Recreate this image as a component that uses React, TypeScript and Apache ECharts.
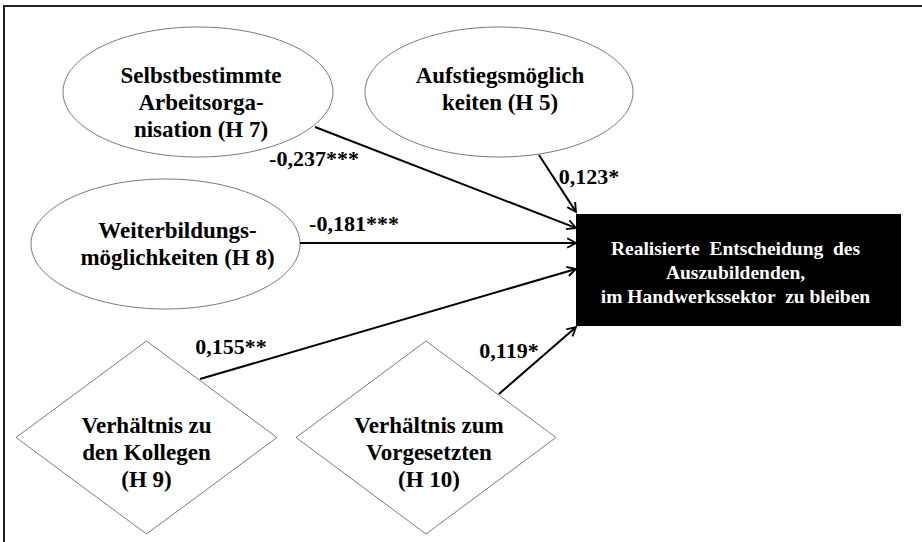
import React, { useEffect, useRef } from "react";
import * as echarts from "echarts";

// ---- content (values) ----
const constructNames = [
  "Selbstbestimmte\nArbeitsorga-\nnisation (H 7)",
  "Aufstiegsmöglich\nkeiten (H 5)",
  "Weiterbildungs-\nmöglichkeiten (H 8)",
  "Verhältnis zu\nden Kollegen\n(H 9)",
  "Verhältnis zum\nVorgesetzten\n(H 10)",
];
const outcomeName = "Realisierte  Entscheidung  des\nAuszubildenden,\nim Handwerkssektor  zu bleiben";
const pathCoefficients = [-0.237, 0.123, -0.181, 0.155, 0.119];
const significance = ["***", "*", "***", "**", "*"];

// ---- layout (positions / sizes) ----
const nodeShapes = ["ellipse", "ellipse", "ellipse", "diamond", "diamond", "box"];
const nodeCenters = [
  [198, 92],
  [499, 92],
  [165.5, 244],
  [146.5, 437.5],
  [426, 437.5],
  [738.5, 270],
];
const nodeSizes = [
  [270, 130],
  [268, 130],
  [269, 130],
  [261, 193],
  [260, 193],
  [325, 112],
];
const nodeLabelShift = [
  [3, 10],
  [1, -3.5],
  [12, 0],
  [0, 15],
  [3, 15],
  [-3, 2],
];
const edgeStarts = [
  [315, 127],
  [539, 155],
  [300, 243],
  [200, 379],
  [499, 394],
];
const edgeTips = [
  [576, 228],
  [576, 212],
  [576, 243],
  [576, 269],
  [576, 327],
];
const coefLabelPos = [
  [314, 158],
  [589, 176],
  [354, 223],
  [231, 346],
  [509, 350],
];

const SERIF = '"Liberation Serif", "Times New Roman", serif';

function fmtCoef(v: number, s: string) {
  return v.toFixed(3).replace(".", ",") + s;
}

export default function App() {
  const ref = useRef<HTMLDivElement>(null);
  useEffect(() => {
    if (!ref.current) return;
    const chart = echarts.init(ref.current, undefined, { renderer: "svg" });

    const nodeData = nodeCenters.map((c, i) => ({
      value: [c[0], c[1], i],
      name: i < constructNames.length ? constructNames[i] : outcomeName,
    }));
    const edgeData = edgeStarts.map((s, i) => ({
      value: [s[0], s[1], edgeTips[i][0], edgeTips[i][1], coefLabelPos[i][0], coefLabelPos[i][1], i],
      name: fmtCoef(pathCoefficients[i], significance[i]),
    }));

    chart.setOption({
      animation: false,
      grid: { left: 0, right: 0, top: 0, bottom: 0 },
      xAxis: { type: "value", min: 0, max: 922, show: false },
      yAxis: { type: "value", min: 0, max: 542, inverse: true, show: false },
      graphic: [
        {
          type: "line",
          shape: { x1: 3, y1: 6, x2: 922, y2: 6 },
          style: { stroke: "#222", lineWidth: 2 },
          silent: true,
          z: 100,
        },
        {
          type: "line",
          shape: { x1: 4, y1: 5, x2: 4, y2: 542 },
          style: { stroke: "#222", lineWidth: 2 },
          silent: true,
          z: 100,
        },
      ],
      series: [
        {
          type: "custom",
          coordinateSystem: "cartesian2d",
          data: nodeData,
          z: 2,
          renderItem: (params: any, api: any) => {
            const i = api.value(2);
            const c = api.coord([api.value(0), api.value(1)]);
            const sz = api.size([nodeSizes[i][0], nodeSizes[i][1]]);
            const w = sz[0];
            const h = sz[1];
            const kind = nodeShapes[i];
            let shapeEl: any;
            if (kind === "ellipse") {
              shapeEl = {
                type: "ellipse",
                shape: { cx: c[0], cy: c[1], rx: w / 2, ry: h / 2 },
                style: { fill: "#fff", stroke: "#7a7a7a", lineWidth: 1 },
              };
            } else if (kind === "diamond") {
              shapeEl = {
                type: "polygon",
                shape: {
                  points: [
                    [c[0], c[1] - h / 2],
                    [c[0] + w / 2, c[1]],
                    [c[0], c[1] + h / 2],
                    [c[0] - w / 2, c[1]],
                  ],
                },
                style: { fill: "#fff", stroke: "#7a7a7a", lineWidth: 1 },
              };
            } else {
              shapeEl = {
                type: "rect",
                shape: { x: c[0] - w / 2, y: c[1] - h / 2, width: w, height: h },
                style: { fill: "#000" },
              };
            }
            const isBox = kind === "box";
            const textEl = {
              type: "text",
              x: c[0] + nodeLabelShift[i][0],
              y: c[1] + nodeLabelShift[i][1],
              style: {
                text: i < constructNames.length ? constructNames[i] : outcomeName,
                fill: isBox ? "#fff" : "#000",
                fontFamily: SERIF,
                fontWeight: "bold",
                fontSize: isBox ? 19.5 : 23,
                lineHeight: isBox ? 24 : 27,
                align: "center",
                verticalAlign: "middle",
              },
            };
            return { type: "group", children: [shapeEl, textEl] };
          },
        },
        {
          type: "custom",
          coordinateSystem: "cartesian2d",
          data: edgeData,
          z: 3,
          renderItem: (params: any, api: any) => {
            const i = api.value(6);
            const s = api.coord([api.value(0), api.value(1)]);
            const t = api.coord([api.value(2), api.value(3)]);
            const lp = api.coord([api.value(4), api.value(5)]);
            const dx = t[0] - s[0];
            const dy = t[1] - s[1];
            const len = Math.sqrt(dx * dx + dy * dy);
            const ux = dx / len;
            const uy = dy / len;
            const L = 10;
            const ang = (28 * Math.PI) / 180;
            const cos = Math.cos(ang);
            const sin = Math.sin(ang);
            const a1 = [t[0] - L * (ux * cos - uy * sin), t[1] - L * (uy * cos + ux * sin)];
            const a2 = [t[0] - L * (ux * cos + uy * sin), t[1] - L * (uy * cos - ux * sin)];
            return {
              type: "group",
              children: [
                {
                  type: "line",
                  shape: { x1: s[0], y1: s[1], x2: t[0] - ux, y2: t[1] - uy },
                  style: { stroke: "#000", lineWidth: 2 },
                },
                {
                  type: "polyline",
                  shape: { points: [a1, t, a2] },
                  style: { stroke: "#000", lineWidth: 1.8, fill: "none" },
                },
                {
                  type: "text",
                  x: lp[0],
                  y: lp[1],
                  style: {
                    text: fmtCoef(pathCoefficients[i], significance[i]),
                    fill: "#000",
                    fontFamily: SERIF,
                    fontWeight: "bold",
                    fontSize: 22,
                    align: "center",
                    verticalAlign: "middle",
                  },
                },
              ],
            };
          },
        },
      ],
    });
    return () => chart.dispose();
  }, []);
  return (
    <div
      ref={ref}
      style={{ position: "fixed", left: 0, top: 0, width: 922, height: 542, background: "#fff" }}
    />
  );
}
